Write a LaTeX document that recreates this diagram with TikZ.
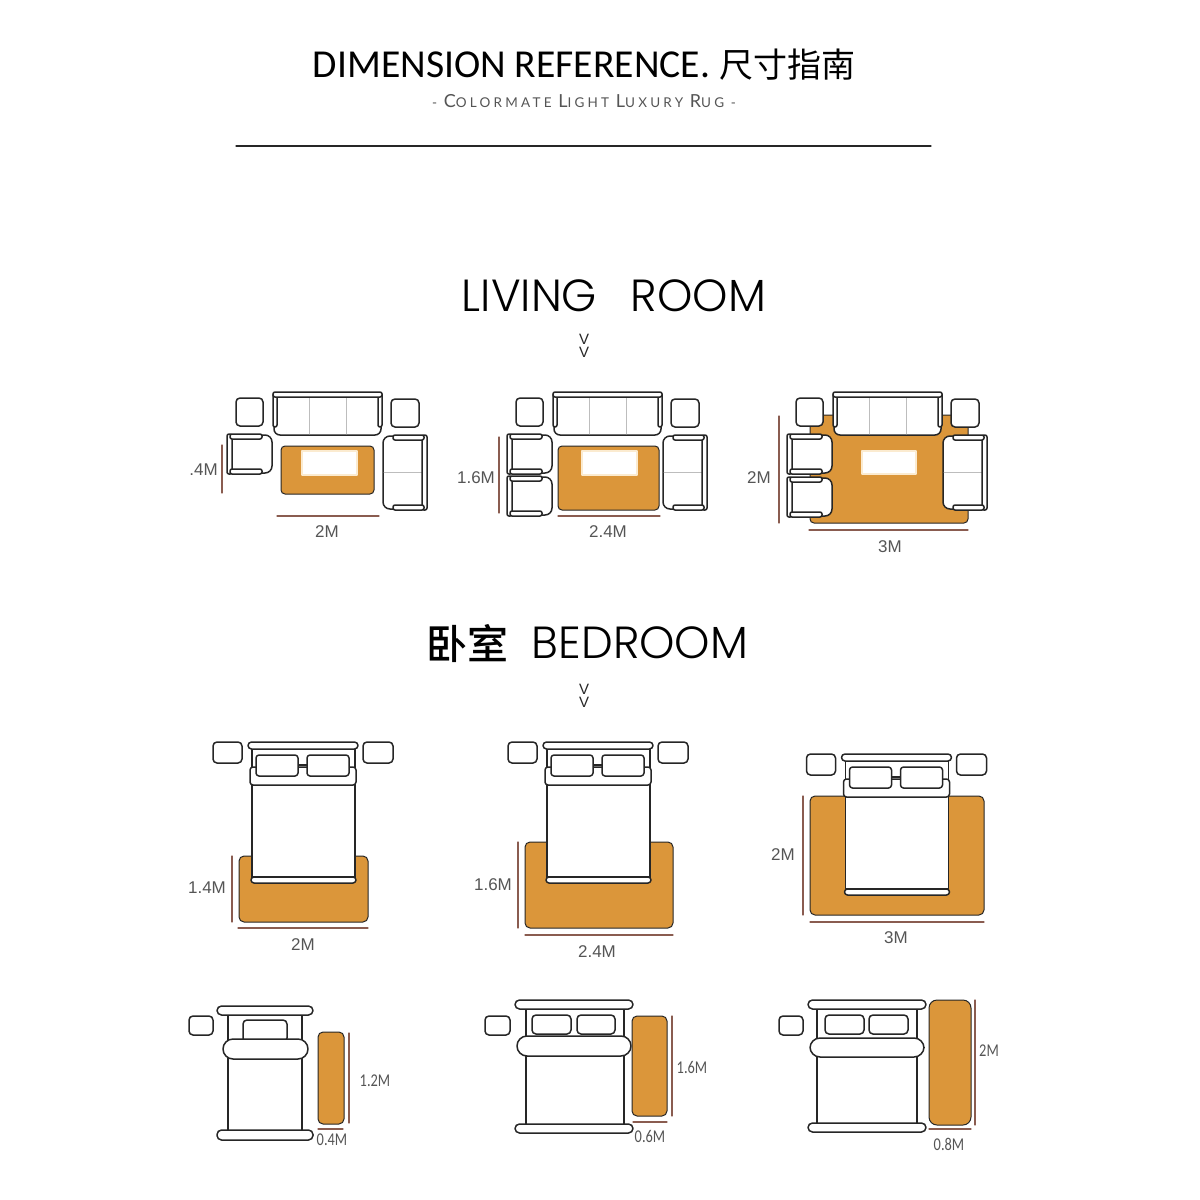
\documentclass[tikz,border=0pt]{standalone}
\usepackage{fontspec}
\newfontfamily\titlefont{Carlito}
\newfontfamily\headfont{Poppins Light}
\newfontfamily\subfont[LetterSpace=24]{Lato}
\newfontfamily\dimfont{Liberation Sans}
\newfontfamily\lowfont{Carlito}
\newfontfamily\cjk{Noto Sans CJK SC}
\newfontfamily\cjkhead{Noto Sans CJK SC Medium}
\definecolor{rugcol}{HTML}{DB963A}
\definecolor{rimcol}{HTML}{FBEBD0}
\definecolor{inkcol}{HTML}{262626}
\definecolor{dimcol}{HTML}{8A5C50}
\definecolor{seamcol}{HTML}{BDBDBD}
\definecolor{txtcol}{HTML}{555555}
\tikzset{
  part/.style={draw=inkcol,line width=1.5pt,fill=white,rounded corners=#1},
  part/.default=2pt,
  rug/.style={draw=inkcol,line width=1pt,fill=rugcol,rounded corners=#1},
  rug/.default=4pt,
  glow/.style={draw=rimcol,line width=1.6pt,fill=white},
  seam/.style={draw=seamcol,line width=0.9pt},
  dimline/.style={draw=dimcol,line width=1.1pt},
  dimtext/.style={font=\dimfont\fontsize{17}{17}\selectfont,text=txtcol,inner sep=0pt},
  lowtext/.style={font=\lowfont\fontsize{18}{18}\selectfont,text=txtcol,inner sep=0pt,xscale=0.8},
  head/.style={font=\headfont\fontsize{45}{45}\selectfont,text=black,inner sep=0pt},
  chev/.style={font=\dimfont\fontsize{15}{12.5}\selectfont,text=inkcol,inner sep=0pt,align=center},
}
% sofa set, drawn at its first place
\newcommand{\sidetables}{
\draw [part=4pt] (236,398) rectangle (263,426);
\draw [part=4pt] (391,399) rectangle (419,427);
\draw [part=6pt] (274,395) rectangle (381,435);
\draw [seam] (309,397)-- (309,434);
\draw [seam] (346,397)-- (346,434);
\draw [part] (273,393) rectangle (277,427);
\draw [part] (378,393) rectangle (382,427);
\draw [part] (273,392) rectangle (382,397);
\draw [part=7pt] (383,436) rectangle (424,509);
\draw [seam] (384,472)-- (422,472);
\draw [part] (422,435) rectangle (427,510);
\draw [part] (393,435) rectangle (424,440);
\draw [part] (393,505) rectangle (424,510);
}
\newcommand{\armchair}[2]{
\draw [part=7pt] (#1+2,#2+1) rectangle (#1+45,#2+39);
\draw [part] (#1,#2) rectangle (#1+5,#2+40);
\draw [part] (#1+3,#2) rectangle (#1+35,#2+5);
\draw [part] (#1+3,#2+35) rectangle (#1+35,#2+40);
}
% big bed with two pillows
\newcommand{\bigbed}{
\draw [part=4pt] (213,742) rectangle (242,763);
\draw [part=4pt] (363,742) rectangle (393,763);
\draw [part=0pt] (252,749) rectangle (355,880);
\draw [part=3pt] (250,767) rectangle (356,785);
\draw [line width=1.5pt,draw=inkcol] (298,765)-- (307,765);
\draw [part=3pt] (256,755) rectangle (298,776);
\draw [part=3pt] (307,755) rectangle (349,776);
\draw [part=3.5pt] (248,742) rectangle (358,749);
\draw [part=3pt] (251,877) rectangle (356,883);
\draw [draw=inkcol,line width=2.2pt] (253,877)-- (354,877);
}
\begin{document}
\begin{tikzpicture}[line cap=round,line join=round,x=1pt,y=-1pt]
\useasboundingbox (0,0) rectangle (1200,1200);
% title block
\node [inner sep=0pt,text=black,font=\titlefont\fontsize{39.6}{40}\selectfont] (title) at (584,65) {DIMENSION REFERENCE. {\cjk\fontsize{34}{34}\selectfont 尺寸指南}};
\node [inner sep=0pt,text=txtcol,font=\subfont\fontsize{13.5}{14}\selectfont] (subtitle) at (584,101) {- {\fontsize{18}{18}\selectfont C}OLORMATE {\fontsize{18}{18}\selectfont L}IGHT {\fontsize{18}{18}\selectfont L}UXURY {\fontsize{18}{18}\selectfont R}UG -};
\draw [line width=1.1pt,draw=inkcol] (236,146)-- (931,146);
\node [head] (living) at (614,296) {LIVING\hspace{0.75em}ROOM};
\node [chev] (chevupper) at (584,346) {V\\V};
% living room, small
\draw [rug] (281,446) rectangle (374,494);
\draw [glow] (302,451) rectangle (357,475);
\sidetables
\armchair{227}{434}
\draw [dimline] (222,445)-- (222,493);
\draw [dimline] (277,516)-- (379,516);
\node [dimtext,anchor=east] (livingah) at (218,470) {.4M};
\node [dimtext] (livingaw) at (327,532) {2M};
% living room, middle
\draw [rug] (558,446) rectangle (659,510);
\draw [glow] (582,451) rectangle (637,475);
\begin{scope}[shift={(280,0)}]
\sidetables
\armchair{227}{434}
\armchair{227}{476}
\end{scope}
\draw [dimline] (499,437)-- (499,513);
\draw [dimline] (558,516)-- (660,516);
\node [dimtext] (livingbh) at (476,478) {1.6M};
\node [dimtext] (livingbw) at (608,532) {2.4M};
% living room, large
\draw [rug] (810,415) rectangle (968,523);
\draw [glow] (862,451) rectangle (916,474);
\begin{scope}[shift={(560,0)}]
\sidetables
\armchair{227}{434}
\armchair{227}{477}
\end{scope}
\draw [dimline] (779,416)-- (779,523);
\draw [dimline] (809,530)-- (968,530);
\node [dimtext] (livingch) at (759,478) {2M};
\node [dimtext] (livingcw) at (890,547) {3M};
% bedroom
\node [inner sep=0pt,text=black,font=\cjkhead\fontsize{41}{41}\selectfont] (bedzh) at (467,643) {卧室};
\node [head] (bedroom) at (640,643) {BEDROOM};
\node [chev] (chevlower) at (584,696) {V\\V};
\draw [rug=5pt] (239,856) rectangle (368,922);
\bigbed
\draw [dimline] (232,856)-- (232,922);
\draw [dimline] (238,928)-- (368,928);
\node [dimtext] (bedah) at (207,888) {1.4M};
\node [dimtext] (bedaw) at (303,945) {2M};
\draw [rug=5pt] (525,842) rectangle (673,928);
\begin{scope}[shift={(295,0)}]
\bigbed
\end{scope}
\draw [dimline] (518,842)-- (518,928);
\draw [dimline] (525,935)-- (673,935);
\node [dimtext] (bedbh) at (493,885) {1.6M};
\node [dimtext] (bedbw) at (597,952) {2.4M};
\draw [rug=5pt] (810,796) rectangle (984,915);
\begin{scope}[shift={(593.5,12)}]
\bigbed
\end{scope}
\draw [dimline] (803,796)-- (803,915);
\draw [dimline] (810,922)-- (984,922);
\node [dimtext] (bedch) at (783,855) {2M};
\node [dimtext] (bedcw) at (896,938) {3M};
% runners beside the bed
\draw [part=4pt] (189,1016) rectangle (213,1035);
\draw [part=0pt] (228,1010) rectangle (302,1135);
\draw [part=4pt] (243,1020) rectangle (287,1042);
\draw [part=10pt] (223,1039) rectangle (308,1059);
\draw [part=4.5pt] (217,1006) rectangle (313,1015);
\draw [part=4.5pt] (217,1130) rectangle (313,1140);
\draw [rug=5pt] (318,1032) rectangle (344,1124);
\draw [dimline] (349,1033)-- (349,1123);
\draw [dimline] (318,1129)-- (343,1129);
\node [lowtext] (runah) at (375,1081) {1.2M};
\node [lowtext] (runaw) at (332,1140) {0.4M};
\draw [part=4pt] (485,1016) rectangle (510,1035);
\draw [part=0pt] (526,1005) rectangle (624,1128);
\draw [part=4pt] (532,1015) rectangle (571,1034);
\draw [part=4pt] (577,1015) rectangle (615,1034);
\draw [part=10pt] (517,1036) rectangle (631,1056);
\draw [part=4.5pt] (515,1000) rectangle (633,1009);
\draw [part=4.5pt] (515,1124) rectangle (633,1133);
\draw [rug=5pt] (632,1016) rectangle (667,1116);
\draw [dimline] (672,1016)-- (672,1116);
\draw [dimline] (633,1122)-- (667,1122);
\node [lowtext] (runbh) at (692,1067) {1.6M};
\node [lowtext] (runbw) at (650,1136) {0.6M};
\draw [part=4pt] (779,1016) rectangle (803,1035);
\draw [part=0pt] (817,1005) rectangle (917,1128);
\draw [part=4pt] (825,1015) rectangle (864,1034);
\draw [part=4pt] (869,1015) rectangle (908,1034);
\draw [part=10pt] (810,1038) rectangle (924,1057);
\draw [part=4.5pt] (808,1000) rectangle (926,1009);
\draw [part=4.5pt] (808,1123) rectangle (926,1132);
\draw [rug=8pt] (929,1000) rectangle (971,1125);
\draw [dimline] (975,1000)-- (975,1125);
\draw [dimline] (929,1129)-- (971,1129);
\node [lowtext] (runch) at (989,1051) {2M};
\node [lowtext] (runcw) at (949,1144) {0.8M};
\end{tikzpicture}
\end{document}
